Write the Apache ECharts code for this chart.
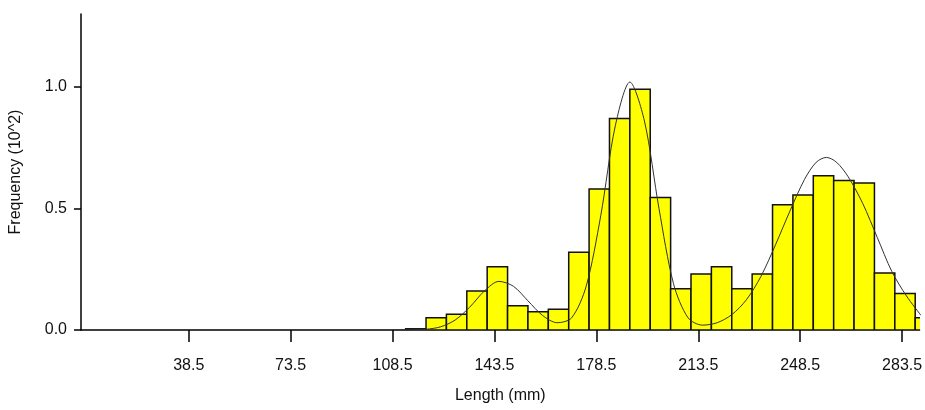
<!DOCTYPE html>
<html>
<head>
<meta charset="utf-8">
<script src="https://cdn.jsdelivr.net/npm/echarts@6/dist/echarts.min.js"></script>
<style>html,body{margin:0;padding:0;background:#fff}#container{width:925px;height:410px}</style>
</head>
<body>
<div id="container"></div>
<script>
// histogram bins: start of bin (mm), width 7
var binStart = [113, 120, 127, 134, 141, 148, 155, 162, 169, 176, 183, 190, 197, 204, 211, 218, 225, 232, 239, 246, 253, 260, 267, 274, 281, 288];
var binFreq = [0.005, 0.05, 0.065, 0.16, 0.26, 0.10, 0.075, 0.085, 0.32, 0.58, 0.87, 0.99, 0.545, 0.17, 0.23, 0.26, 0.17, 0.23, 0.515, 0.555, 0.635, 0.615, 0.605, 0.235, 0.15, 0.05];
var binWidth = 7;
// fitted curve
var curveX = [110, 115, 120, 125, 130, 135, 140, 145, 150, 155, 160, 165, 170, 175, 180, 185, 190, 195, 200, 205, 210, 215, 220, 225, 230, 235, 240, 245, 250, 254, 257.5, 261, 265, 270, 275, 280, 285, 290];
var curveY = [0, 0.001, 0.003, 0.013, 0.041, 0.094, 0.16, 0.2, 0.18, 0.12, 0.06, 0.03, 0.05, 0.18, 0.47, 0.84, 1.02, 0.86, 0.5, 0.19, 0.05, 0.02, 0.03, 0.063, 0.124, 0.22, 0.35, 0.49, 0.62, 0.69, 0.71, 0.69, 0.63, 0.52, 0.38, 0.24, 0.14, 0.06];
var xTicks = [38.5, 73.5, 108.5, 143.5, 178.5, 213.5, 248.5, 283.5];
var yTicks = [0, 0.5, 1.0];

var dom = document.getElementById('container');
var myChart = echarts.init(dom);
var bars = binStart.map(function (s, i) { return [s, s + binWidth, binFreq[i]]; });
var curve = curveX.map(function (x, i) { return [x, curveY[i]]; });
var font = 'Arial, "Liberation Sans", sans-serif';

var option = {
  animation: false,
  grid: { left: 75, right: 0, top: 14, bottom: 80 },
  xAxis: {
    type: 'value', min: 1.5, max: 289.5,
    name: 'Length (mm)', nameLocation: 'middle', nameGap: 58,
    nameTextStyle: { color: '#111', fontSize: 16, fontFamily: font },
    axisLine: { lineStyle: { color: '#000', width: 1.5 } },
    axisTick: { show: true, inside: false, length: 12, lineStyle: { color: '#000', width: 1.5 }, customValues: xTicks },
    splitLine: { show: false },
    axisLabel: {
      color: '#111', fontSize: 16, fontFamily: font, margin: 28,
      customValues: xTicks,
      formatter: function (v) { return v.toFixed(1); }
    }
  },
  yAxis: {
    type: 'value', min: 0, max: 1.3,
    name: 'Frequency (10^2)', nameLocation: 'middle', nameGap: 57, nameRotate: 90,
    nameTextStyle: { color: '#111', fontSize: 16, fontFamily: font },
    axisLine: { show: true, lineStyle: { color: '#000', width: 1.5 } },
    axisTick: { show: true, inside: false, length: 7, lineStyle: { color: '#000', width: 1.5 }, customValues: yTicks },
    splitLine: { show: false },
    axisLabel: {
      color: '#111', fontSize: 16, fontFamily: font, margin: 14,
      customValues: yTicks,
      formatter: function (v) { return v.toFixed(1); }
    }
  },
  series: [{
    type: 'custom',
    clip: true,
    data: bars,
    renderItem: function (params, api) {
      var p0 = api.coord([api.value(0), api.value(2)]);
      var p1 = api.coord([api.value(1), 0]);
      return {
        type: 'rect',
        shape: { x: p0[0], y: p0[1], width: p1[0] - p0[0], height: p1[1] - p0[1] },
        style: { fill: '#ffff00', stroke: '#111', lineWidth: 1.5 }
      };
    },
    encode: { x: [0, 1], y: 2 }
  }, {
    type: 'line',
    data: curve,
    smooth: 0.3,
    showSymbol: false,
    lineStyle: { color: '#333', width: 1 },
    z: 5
  }]
};
myChart.setOption(option, true);
</script>
</body>
</html>
